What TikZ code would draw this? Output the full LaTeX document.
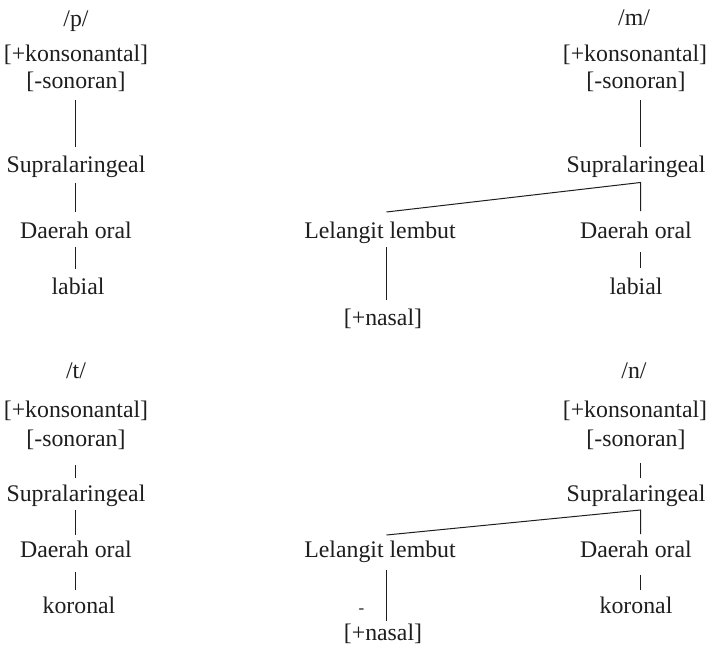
\documentclass[tikz,border=0pt]{standalone}
\usepackage{fontspec}
\setmainfont{Liberation Serif}
\usetikzlibrary{calc}
\definecolor{ink}{HTML}{1E1E1E}
\begin{document}
\begin{tikzpicture}[x=1bp,y=-1bp,
  lbl/.style={inner sep=0pt, outer sep=0pt, anchor=base, text=ink,
    text height=16bp, text depth=5bp,
    font=\fontsize{23.8bp}{28bp}\selectfont},
  link/.style={draw=ink, line width=1bp}]
\useasboundingbox[fill=white] (0,0) rectangle (709,648);

% line columns
\coordinate (cL) at (75.5,0);
\coordinate (cM) at (386.5,0);
\coordinate (cR) at (640.5,0);

% ---------- /p/ ----------
\node[lbl] (p0)   at (76,27)  {/p/};
\node[lbl] (k1)   at (76,62)  {[+konsonantal]};
\node[lbl] (s1)   at (76,89)  {[-sonoran]};
\node[lbl] (sup1) at (76,173) {Supralaringeal};
\node[lbl] (dor1) at (76,238) {Daerah oral};
\node[lbl] (lab1) at (78,294) {labial};
\draw[link] ($(s1.south -| cL)+(0,6)$)   -- ($(sup1.north -| cL)+(0,-10)$);
\draw[link] ($(sup1.south -| cL)+(0,5)$) -- ($(dor1.north -| cL)+(0,-10)$);
\draw[link] ($(dor1.south -| cL)+(0,4)$) -- ($(lab1.north -| cL)+(0,-9)$);

% ---------- /m/ ----------
\node[lbl] (m0)   at (634,26)  {/m/};
\node[lbl] (k2)   at (635,62)  {[+konsonantal]};
\node[lbl] (s2)   at (636,89)  {[-sonoran]};
\node[lbl] (sup2) at (636,173) {Supralaringeal};
\node[lbl] (lel1) at (380,238) {Lelangit lembut};
\node[lbl] (dor2) at (636,238) {Daerah oral};
\node[lbl] (lab2) at (636,294) {labial};
\node[lbl] (nas1) at (383,325) {[+nasal]};
\coordinate (j1) at ($(sup2.south -| cR)+(0,4.5)$);
\draw[link] ($(s2.south -| cR)+(0,6)$) -- ($(sup2.north -| cR)+(0,-10)$);
\draw[link] ($(dor2.north -| cR)+(0,-11)$) -- (j1) -- ($(lel1.north -| cM)+(0,-10)$);
\draw[link] ($(dor2.south -| cR)+(0,9)$) -- ($(lab2.north -| cR)+(0,-10)$);
\draw[link] ($(lel1.south -| cM)+(0,4)$) -- ($(nas1.north -| cM)+(0,-9)$);

% ---------- /t/ ----------
\node[lbl] (t0)   at (76,378)  {/t/};
\node[lbl] (k3)   at (76,417)  {[+konsonantal]};
\node[lbl] (s3)   at (76,446)  {[-sonoran]};
\node[lbl] (sup3) at (76,501)  {Supralaringeal};
\node[lbl] (dor3) at (76,557)  {Daerah oral};
\node[lbl] (kor1) at (79,613)  {koronal};
\draw[link] ($(s3.south -| cL)+(0,14)$)   -- ($(sup3.north -| cL)+(0,-7)$);
\draw[link] ($(sup3.south -| cL)+(0,4)$)  -- ($(dor3.north -| cL)+(0,-6)$);
\draw[link] ($(dor3.south -| cL)+(0,10)$) -- ($(kor1.north -| cL)+(0,-7)$);

% ---------- /n/ ----------
\node[lbl] (n0)   at (634,378) {/n/};
\node[lbl] (k4)   at (635,417) {[+konsonantal]};
\node[lbl] (s4)   at (636,446) {[-sonoran]};
\node[lbl] (sup4) at (636,501) {Supralaringeal};
\node[lbl] (lel2) at (380,557) {Lelangit lembut};
\node[lbl] (dor4) at (636,557) {Daerah oral};
\node[lbl] (kor2) at (636,613) {koronal};
\node[lbl] (nas2) at (383,640) {[+nasal]};
\node[inner sep=0pt, text=ink, font=\fontsize{17bp}{20bp}\selectfont] (minus) at (361.5,611) {-};
\coordinate (j2) at ($(sup4.south -| cR)+(0,4)$);
\draw[link] ($(s4.south -| cR)+(0,12)$) -- ($(sup4.north -| cR)+(0,-7)$);
\draw[link] ($(dor4.north -| cR)+(0,-7)$) -- (j2) -- ($(lel2.north -| cM)+(0,-6)$);
\draw[link] ($(dor4.south -| cR)+(0,13)$) -- ($(kor2.north -| cR)+(0,-7)$);
\draw[link] ($(lel2.south -| cM)+(0,8)$) -- ($(nas2.north -| cM)+(0,-3)$);
\end{tikzpicture}
\end{document}
